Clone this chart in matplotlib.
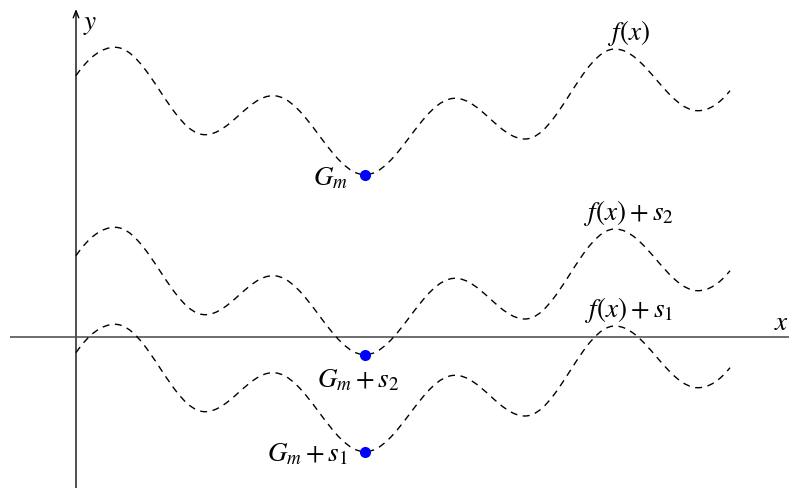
import numpy as np
import matplotlib
matplotlib.use("Agg")
import matplotlib.pyplot as plt
from matplotlib.path import Path
from matplotlib.patches import PathPatch

plt.rcParams['mathtext.fontset'] = 'stix'

# Knots of f(x) (extrema plus the two end points)
f_x = [0, 39, 129, 197, 289, 379, 449, 539, 622, 654]
f_y = [261.3, 289.7, 202.3, 241.3, 162.3, 238.7, 198, 288, 226.3, 246.3]

# vertical shifts of the curves
shifts = [0.0, -180.0, -277.0]
curve_labels = [r'$f(x)$', r'$f(x)+s_2$', r'$f(x)+s_1$']
point_labels = [r'$G_m$', r'$G_m+s_2$', r'$G_m+s_1$']
label_knot = 7  # curve labels sit above this knot

FS = 19.5
fig = plt.figure(figsize=(7.89, 4.89), dpi=100)
ax = fig.add_axes([0, 0, 1, 1])
ax.set_xlim(-76, 713)
ax.set_ylim(-151, 338)
ax.axis('off')

axis_color = '#555555'
ax.plot([-66, 713], [0, 0], color=axis_color, lw=1.2, solid_capstyle='butt', zorder=1)
ax.annotate('', xy=(0, 328), xytext=(0, -151),
            arrowprops=dict(arrowstyle='->,head_length=0.5,head_width=0.2',
                            color='black', lw=1.0, shrinkA=0, shrinkB=0), zorder=1)
ax.plot([0, 0], [-151, 320], color=axis_color, lw=1.2, zorder=1)
ax.text(705, 15, r'$x$', fontsize=FS, ha='center', va='center')
ax.text(14, 314, r'$y$', fontsize=FS, ha='center', va='center')


def smooth_path(xs, ys):
    k = 0.36
    verts = [(xs[0], ys[0])]
    codes = [Path.MOVETO]
    n = len(xs)
    for i in range(n - 1):
        x0, y0, x1, y1 = xs[i], ys[i], xs[i + 1], ys[i + 1]
        dx, dy = x1 - x0, y1 - y0
        if i == 0:
            c1 = (x0 + dx / 3, y0 + 2 * dy / 3)
            c2 = (x1 - dx / 3, y1)
        elif i == n - 2:
            c1 = (x0 + dx / 3, y0)
            c2 = (x1 - dx / 3, y1 - 2 * dy / 3)
        else:
            c1 = (x0 + k * dx, y0)
            c2 = (x1 - k * dx, y1)
        verts += [c1, c2, (x1, y1)]
        codes += [Path.CURVE4] * 3
    return Path(verts, codes)


imin = int(np.argmin(f_y))
pt_offsets = [((-17, -3), 'right', 'center'),
              ((-7, -12), 'center', 'top'),
              ((-17, -2), 'right', 'center')]
for s, cl, pl, (off, ha, va) in zip(shifts, curve_labels, point_labels, pt_offsets):
    ys = [v + s for v in f_y]
    patch = PathPatch(smooth_path(f_x, ys), fill=False, edgecolor='black',
                      lw=1.0, linestyle=(0, (5.0, 4.0)), zorder=2)
    ax.add_patch(patch)
    ax.plot(f_x[imin], ys[imin], 'o', color='#0000ff', ms=8, mec='none', zorder=3)
    ax.annotate(pl, (f_x[imin], ys[imin]), xytext=off, textcoords='offset pixels',
                fontsize=FS, ha=ha, va=va)
    ax.annotate(cl, (f_x[label_knot], ys[label_knot]), xytext=(14, 2),
                textcoords='offset pixels', fontsize=FS, ha='center', va='bottom')

fig.savefig('out.png', dpi=100)
